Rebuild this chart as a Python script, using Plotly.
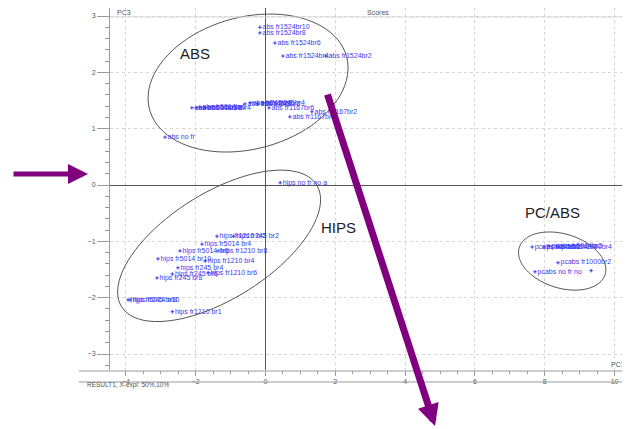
import numpy as np
import plotly.graph_objects as go

# ---------------- data (PC1, PC3 scores) ----------------
abs_labels = ["abs fr1524br10", "abs fr1524br8", "abs fr1524br6", "abs fr1524br4", "abs fr1524br2",
              "abs fr5014br10", "abs fr5014br8", "abs fr5014br6", "abs fr5014br4", "abs fr5014br2",
              "abs fr245br8", "abs fr245br6", "abs fr245br4", "abs fr1167br6", "abs fr1167br2",
              "abs fr1167br4", "abs no fr"]
abs_pc1 = [-0.16, -0.16, 0.27, 0.50, 1.73,
           -2.11, -1.99, -1.88, -1.73, -0.59,
           -0.44, -0.21, -0.07, 0.10, 1.33,
           0.70, -2.88]
abs_pc3 = [2.80, 2.70, 2.52, 2.29, 2.29,
           1.37, 1.37, 1.38, 1.37, 1.44,
           1.46, 1.44, 1.46, 1.37, 1.30,
           1.21, 0.85]

hips_labels = ["hips no fr no a", "hips fr1210 br2", "hips fr245 br2", "hips fr5014 br4",
               "hips fr5014 br6", "hips fr1210 br8", "hips fr5014 br10", "hips fr1210 br4",
               "hips fr245 br4", "hips fr1210 br6", "hips fr245 br6", "hips fr245 br8",
               "hips fr5014 br8", "hips fr245 br10", "hips fr1210 br1"]
hips_pc1 = [0.42, -1.39, -0.92, -1.82,
            -2.45, -1.36, -3.08, -1.73,
            -2.51, -1.65, -2.67, -3.11,
            -3.94, -3.88, -2.67]
hips_pc3 = [0.04, -0.91, -0.91, -1.05,
            -1.17, -1.17, -1.31, -1.35,
            -1.47, -1.56, -1.58, -1.65,
            -2.04, -2.04, -2.25]

pcabs_labels = ["pcabs fr245br2", "pcabs fr5014br4", "pcabs fr5014br2", "pcabs fr1000br4",
                "pcabs fr1000br2", "pcabs no fr no", ""]
pcabs_pc1 = [7.64, 7.98, 8.12, 8.40, 8.38, 7.72, 9.33]
pcabs_pc3 = [-1.10, -1.10, -1.08, -1.10, -1.38, -1.54, -1.52]

x_ticks = [-4, -2, 0, 2, 4, 6, 8, 10]
y_ticks = [-3, -2, -1, 0, 1, 2, 3]

# ---------------- layout geometry ----------------
# the page body has an 8 px margin, so the figure is drawn 8 px in from the window corner
OFF = 8
WIN_W, WIN_H = 630, 429
W, H = WIN_W - OFF, WIN_H - OFF
PLOT_L, PLOT_R, PLOT_T, PLOT_B = 110, 625, 8, 370      # window pixels
ML, MR, MT, MB = PLOT_L - OFF, WIN_W - PLOT_R, PLOT_T - OFF, WIN_H - PLOT_B
PW, PH = PLOT_R - PLOT_L, PLOT_B - PLOT_T
xr = [-4.456, 10.30]
yr = [-3.284, 3.142]
sx = PW / (xr[1] - xr[0])
sy = PH / (yr[1] - yr[0])

def px2paper(px, py):
    return (px - PLOT_L) / PW, (PLOT_B - py) / PH

def ellipse_path(cx, cy, a_px, b_px, ang_deg, n=90):
    t = np.linspace(0, 2 * np.pi, n)
    th = np.radians(ang_deg)
    dx = a_px * np.cos(t) * np.cos(th) - b_px * np.sin(t) * np.sin(th)
    dy = a_px * np.cos(t) * np.sin(th) + b_px * np.sin(t) * np.cos(th)
    xs = cx + dx / sx
    ys = cy + dy / sy
    return "M " + " L ".join(f"{x:.4f},{y:.4f}" for x, y in zip(xs, ys)) + " Z"

BLUE = "#3a3af2"
FONT = "Liberation Sans, Arial, sans-serif"

fig = go.Figure()
for lab, xs, ys in [(abs_labels, abs_pc1, abs_pc3),
                    (hips_labels, hips_pc1, hips_pc3),
                    (pcabs_labels, pcabs_pc1, pcabs_pc3)]:
    fig.add_trace(go.Scatter(
        x=xs, y=ys, text=lab, mode="markers+text", textposition="middle right",
        textfont=dict(size=7, color=BLUE, family=FONT),
        marker=dict(symbol="cross-thin", size=2.5, line=dict(width=1, color=BLUE), color=BLUE),
        showlegend=False, cliponaxis=False))

# ellipses (group outlines)
shapes = [
    dict(type="path", xref="x", yref="y", path=ellipse_path(-0.50, 1.81, 102, 66, 15),
         line=dict(color="#555555", width=1)),
    dict(type="path", xref="x", yref="y", path=ellipse_path(-1.33, -1.08, 115, 53, 32),
         line=dict(color="#555555", width=1)),
    dict(type="path", xref="x", yref="y", path=ellipse_path(8.50, -1.35, 45, 27, -17.5),
         line=dict(color="#555555", width=1)),
]
# frame lines
x0p, _ = px2paper(79, 0)
_, yb1 = px2paper(0, 371)
_, yb2 = px2paper(0, 382)
_, yhd = px2paper(0, 17)
shapes += [
    dict(type="line", xref="paper", yref="paper", x0=x0p, x1=1.01, y0=yb1, y1=yb1,
         line=dict(color="#9a9a9a", width=1)),
    dict(type="line", xref="paper", yref="paper", x0=x0p, x1=1.01, y0=yb2, y1=yb2,
         line=dict(color="#9a9a9a", width=1)),
    dict(type="line", xref="paper", yref="paper", x0=0, x1=1, y0=yhd, y1=yhd,
         line=dict(color="#d6d6d6", width=1)),
]

annotations = []
def txt(px, py, s, size=7, color="#555555", xanchor="left"):
    xp, yp = px2paper(px, py)
    annotations.append(dict(x=xp, y=yp, xref="paper", yref="paper", text=s, showarrow=False,
                            xanchor=xanchor, yanchor="middle",
                            font=dict(size=size, color=color, family=FONT)))

txt(115, 12.5, "PC3")
txt(378, 12.5, "Scores", xanchor="center")
txt(627, 364, "PC1", xanchor="right")
txt(85, 385, "RESULT1, X-expl: 50%,10%", size=6.5)

for s, x, y in [("ABS", -2.01, 2.34), ("HIPS", 2.08, -0.75), ("PC/ABS", 8.21, -0.48)]:
    annotations.append(dict(x=x, y=y, xref="x", yref="y", text=s, showarrow=False,
                            font=dict(size=15, color="#222222", family=FONT)))

# purple arrows
PURPLE = "#800080"
for tip, tail, w, sz in [((88, 174), (12, 174), 5, 0.8), ((435, 426), (327, 93), 7, 0.62)]:
    xp, yp = px2paper(*tip)
    annotations.append(dict(x=xp, y=yp, xref="paper", yref="paper", text="",
                            showarrow=True, ax=tail[0] - tip[0], ay=tail[1] - tip[1],
                            arrowhead=2, arrowsize=sz, arrowwidth=w, arrowcolor=PURPLE))

fig.update_layout(
    width=W, height=H,
    margin=dict(l=ML, r=MR, t=MT, b=MB, autoexpand=False),
    paper_bgcolor="white", plot_bgcolor="white",
    shapes=shapes, annotations=annotations,
    xaxis=dict(range=xr, tickvals=x_ticks, showgrid=True, gridcolor="#d6d6d6", griddash="dot",
               automargin=False,
               zeroline=True, zerolinecolor="#555555", zerolinewidth=1,
               showline=False, ticks="outside", ticklen=5, tickcolor="#9a9a9a",
               tickfont=dict(size=7, color="#555555", family=FONT),
               minor=dict(ticks="outside", ticklen=3, dtick=0.5, tickcolor="#9a9a9a", showgrid=False)),
    yaxis=dict(range=yr, tickvals=y_ticks, showgrid=True, gridcolor="#d6d6d6", griddash="dot",
               automargin=False,
               zeroline=True, zerolinecolor="#555555", zerolinewidth=1,
               showline=True, linecolor="#9a9a9a", ticks="outside", ticklen=12, tickcolor="#9a9a9a",
               tickfont=dict(size=7, color="#555555", family=FONT),
               minor=dict(ticks="outside", ticklen=4, dtick=0.2, tickcolor="#9a9a9a", showgrid=False)),
)

fig.write_html("out.html")
